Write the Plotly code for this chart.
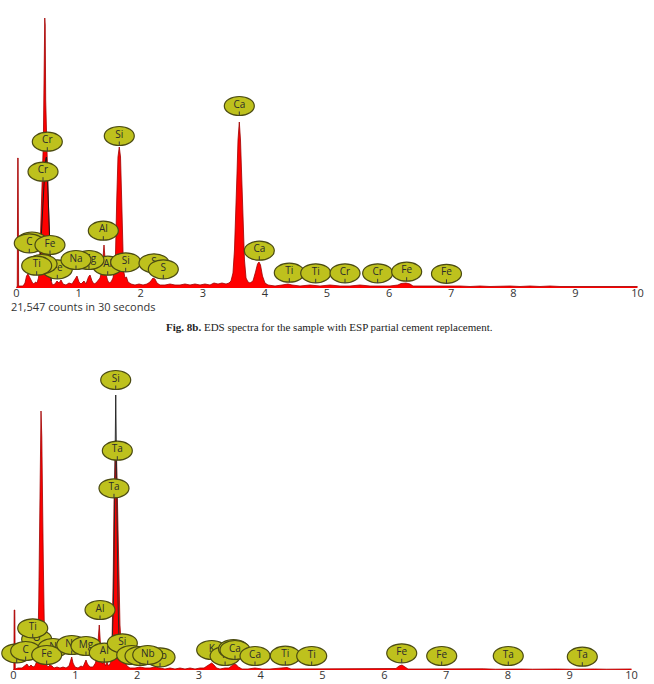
import plotly.graph_objects as go

# ---------------- data ----------------
tick_values = [0, 1, 2, 3, 4, 5, 6, 7, 8, 9, 10]
tick_labels = ["0", "1", "2", "3", "4", "5", "6", "7", "8", "9", "10"]

# Upper spectrum (Fig. 8b): energy in keV, counts
top_energy = [
    0.000, 0.012, 0.020, 0.026, 0.034, 0.056, 0.105, 0.137, 0.161, 0.185,
    0.209, 0.233, 0.258, 0.282, 0.306, 0.330, 0.354, 0.370, 0.386, 0.403,
    0.419, 0.432, 0.440, 0.448, 0.455, 0.462, 0.470, 0.483, 0.496, 0.512,
    0.528, 0.544, 0.559, 0.580, 0.620, 0.652, 0.684, 0.717, 0.749, 0.797,
    0.845, 0.894, 0.942, 0.974, 1.006, 1.039, 1.087, 1.119, 1.159, 1.184,
    1.216, 1.248, 1.280, 1.312, 1.345, 1.377, 1.393, 1.409, 1.425, 1.441,
    1.465, 1.490, 1.522, 1.554, 1.578, 1.594, 1.614, 1.634, 1.655, 1.675,
    1.694, 1.710, 1.723, 1.747, 1.771, 1.796, 1.844, 1.908, 1.973, 2.037,
    2.101, 2.150, 2.198, 2.230, 2.262, 2.311, 2.391, 2.472, 2.552, 2.633,
    2.713, 2.794, 2.874, 2.955, 3.035, 3.116, 3.180, 3.245, 3.309, 3.374,
    3.422, 3.454, 3.486, 3.510, 3.527, 3.551, 3.567, 3.588, 3.607, 3.623,
    3.647, 3.671, 3.696, 3.728, 3.760, 3.808, 3.849, 3.881, 3.905, 3.929,
    3.961, 4.001, 4.050, 4.163, 4.275, 4.372, 4.436, 4.565, 4.726, 4.887,
    5.048, 5.209, 5.370, 5.531, 5.692, 5.853, 6.014, 6.143, 6.192, 6.272,
    6.337, 6.385, 6.498, 6.659, 6.820, 6.981, 7.142, 7.303, 7.464, 7.625,
    7.786, 7.947, 8.108, 8.269, 8.430, 8.591, 8.752, 8.913, 9.074, 9.235,
    9.396, 9.557, 9.718, 9.879, 10.000,
]
top_counts = [
    0, 20, 1300, 1300, 20, 20, 20, 50, 120, 140,
    110, 90, 50, 40, 60, 50, 100, 200, 530, 830,
    1130, 1450, 1880, 2480, 2700, 2630, 1880, 1450, 1150, 880,
    580, 230, 70, 30, 40, 70, 50, 80, 40, 30,
    50, 40, 90, 120, 60, 40, 70, 40, 110, 130,
    70, 40, 50, 80, 100, 180, 330, 430, 300, 140,
    80, 50, 60, 100, 200, 330, 880, 1310, 1410, 1310,
    880, 380, 180, 100, 110, 60, 40, 30, 40, 30,
    40, 60, 100, 90, 50, 30, 30, 40, 30, 30,
    40, 30, 40, 30, 40, 30, 50, 40, 50, 40,
    50, 70, 150, 380, 650, 1150, 1480, 1660, 1480, 1150,
    650, 280, 100, 60, 50, 70, 160, 240, 260, 230,
    120, 50, 30, 20, 30, 40, 30, 20, 30, 20,
    30, 20, 20, 30, 20, 20, 20, 30, 45, 50,
    40, 20, 20, 20, 25, 20, 20, 15, 20, 15,
    20, 20, 15, 20, 15, 20, 15, 15, 20, 15,
    15, 20, 15, 15, 15,
]
# dark overlay trace around the strong low-energy peak (upper spectrum)
top_overlay_energy = [0.380, 0.400, 0.420, 0.440, 0.460, 0.475, 0.483, 0.496, 0.512, 0.528, 0.544, 0.559]
top_overlay_counts = [300, 560, 820, 1050, 1230, 1300, 1310, 1150, 880, 580, 230, 70]

# Lower spectrum
bot_energy = [
    0.000, 0.006, 0.011, 0.021, 0.028, 0.073, 0.138, 0.186, 0.218, 0.251,
    0.283, 0.316, 0.348, 0.372, 0.392, 0.409, 0.421, 0.434, 0.445, 0.458,
    0.469, 0.482, 0.497, 0.510, 0.526, 0.558, 0.591, 0.623, 0.655, 0.704,
    0.752, 0.801, 0.850, 0.898, 0.922, 0.942, 0.963, 0.995, 1.044, 1.092,
    1.125, 1.157, 1.173, 1.197, 1.238, 1.286, 1.327, 1.351, 1.375, 1.388,
    1.403, 1.419, 1.440, 1.464, 1.489, 1.513, 1.537, 1.561, 1.589, 1.599,
    1.615, 1.626, 1.642, 1.654, 1.667, 1.686, 1.702, 1.723, 1.748, 1.777,
    1.804, 1.837, 1.885, 1.966, 2.047, 2.128, 2.209, 2.290, 2.371, 2.451,
    2.532, 2.613, 2.694, 2.775, 2.856, 2.937, 3.018, 3.083, 3.131, 3.172,
    3.207, 3.244, 3.285, 3.341, 3.422, 3.487, 3.528, 3.568, 3.600, 3.641,
    3.697, 3.794, 3.908, 4.021, 4.150, 4.280, 4.361, 4.426, 4.490, 4.636,
    4.798, 4.960, 5.121, 5.283, 5.445, 5.607, 5.769, 5.930, 6.092, 6.189,
    6.238, 6.286, 6.335, 6.383, 6.578, 6.800, 7.000, 7.200, 7.400, 7.600,
    7.800, 8.000, 8.200, 8.400, 8.600, 8.800, 9.000, 9.200, 9.400, 9.600,
    9.800, 10.000,
]
bot_counts = [
    0, 10, 600, 600, 10, 20, 20, 40, 60, 30,
    50, 30, 40, 80, 170, 700, 1330, 2330, 2590, 2330,
    1500, 1100, 500, 170, 60, 30, 50, 40, 20, 30,
    20, 30, 20, 40, 90, 130, 70, 30, 20, 40,
    30, 80, 100, 60, 30, 30, 70, 150, 350, 450,
    300, 100, 60, 90, 40, 80, 40, 60, 100, 400,
    1000, 1670, 2150, 2300, 2150, 1670, 1000, 450, 200, 100,
    80, 40, 20, 20, 30, 20, 20, 30, 20, 10,
    20, 10, 20, 10, 20, 10, 20, 20, 40, 60,
    70, 50, 20, 10, 20, 20, 40, 60, 55, 30,
    10, 10, 20, 10, 10, 15, 25, 25, 10, 10,
    10, 10, 10, 10, 10, 10, 10, 10, 10, 15,
    40, 50, 30, 10, 10, 12, 8, 12, 10, 12,
    8, 12, 10, 8, 12, 10, 8, 12, 10, 8,
    10, 10,
]
# dark overlay trace around the Si peak (lower spectrum)
bot_overlay_energy = [1.589, 1.602, 1.618, 1.634, 1.646, 1.654, 1.662, 1.675, 1.691, 1.707]
bot_overlay_counts = [100, 300, 700, 1500, 2300, 2750, 2300, 1500, 700, 300]

# Element markers: name, energy (keV), marker height (counts) - drawn in this order
top_label_names = ["Cr", "Cr", "Si", "Ca", "Al", "O", "C", "Fe", "Fe", "O", "Ti", "Al",
                   "Mg", "Na", "Si", "S", "S", "Ca", "Ti", "Ti", "Cr", "Cr", "Fe", "Fe"]
top_label_energy = [0.496, 0.427, 1.655, 3.588, 1.398, 0.250, 0.206, 0.539, 0.657, 0.411, 0.325, 1.469,
                    1.167, 0.958, 1.758, 2.214, 2.364, 3.910, 4.393, 4.818, 5.290, 5.816, 6.283, 6.924]
top_label_counts = [1463, 1163, 1520, 1820, 573, 465, 447, 430, 187, 240, 223, 223,
                    280, 280, 257, 247, 187, 373, 153, 147, 147, 147, 163, 142]

bot_label_names = ["Si", "Ta", "Ta", "Al", "O", "Ti", "O", "C", "N", "Fe", "Na", "Mg", "Al", "Si",
                   "S", "S", "Nb", "Nb", "K", "K", "Ca", "Ca", "Ca", "Ti", "Ti", "Fe", "Fe", "Ta", "Ta"]
bot_label_energy = [1.654, 1.680, 1.626, 1.400, 0.375, 0.311, 0.052, 0.197, 0.639, 0.537, 0.942, 1.173,
                    1.469, 1.761, 1.913, 2.047, 2.371, 2.172, 3.207, 3.424, 3.560, 3.584, 3.908,
                    4.398, 4.825, 6.282, 6.929, 8.006, 9.204]
bot_label_counts = [2900, 2193, 1817, 600, 307, 417, 167, 190, 220, 150, 250, 240,
                    173, 267, 150, 140, 127, 150, 200, 140, 210, 200, 140,
                    143, 140, 167, 140, 140, 133]

top_counts_text = "21,547 counts in 30 seconds"
bot_counts_text = "22,327 counts in 30 seconds"
caption_bold = "Fig. 8b."
caption_text = " EDS spectra for the sample with ESP partial cement replacement."

# ---------------- layout geometry (pixels) ----------------
W, H = 654, 684
X_RANGE = [-0.2, 10.2]
TOP_X0, TOP_PPK = 16.5, 62.1
BOT_X0, BOT_PPK = 13.5, 61.8
TOP_BASE, TOP_TOPPX = 288, 0
BOT_BASE, BOT_TOPPX = 670, 355
CPP = 10  # counts per vertical pixel

def xdom(x0, ppk):
    return [(x0 + X_RANGE[0] * ppk) / W, (x0 + X_RANGE[1] * ppk) / W]

RED = "#ff0000"
OUTLINE = "#a00000"
MARK_FILL = "#bec11d"
MARK_EDGE = "#4b4b12"
EW, EH = 15, 9.5   # ellipse half-size in pixels

fig = go.Figure()
fig.add_trace(go.Scatter(x=top_energy, y=top_counts, mode="lines", fill="tozeroy",
                         fillcolor=RED, line=dict(color=OUTLINE, width=0.8),
                         xaxis="x", yaxis="y", hoverinfo="skip", showlegend=False))
fig.add_trace(go.Scatter(x=top_overlay_energy, y=top_overlay_counts, mode="lines",
                         line=dict(color="#1a1a1a", width=1), xaxis="x", yaxis="y",
                         hoverinfo="skip", showlegend=False))
fig.add_trace(go.Scatter(x=bot_energy, y=bot_counts, mode="lines", fill="tozeroy",
                         fillcolor=RED, line=dict(color=OUTLINE, width=0.8),
                         xaxis="x2", yaxis="y2", hoverinfo="skip", showlegend=False))
fig.add_trace(go.Scatter(x=bot_overlay_energy, y=bot_overlay_counts, mode="lines",
                         line=dict(color="#2a2a2a", width=1), xaxis="x2", yaxis="y2",
                         hoverinfo="skip", showlegend=False))

shapes = []
def add_markers(names, energies, counts, xr, yr, ppk):
    dx = EW / ppk
    dy = EH * CPP
    for n, e, c in zip(names, energies, counts):
        shapes.append(dict(
            type="circle", xref=xr, yref=yr,
            x0=e - dx, x1=e + dx, y0=c - dy, y1=c + dy,
            fillcolor=MARK_FILL, line=dict(color=MARK_EDGE, width=1.2), layer="above",
            label=dict(text=n, font=dict(family="Open Sans", size=10, color="#2b2b2b"),
                       textposition="top center", padding=1),
        ))
        shapes.append(dict(
            type="line", xref=xr, yref=yr,
            x0=e, x1=e, y0=c - dy, y1=c - 5.5 * CPP,
            line=dict(color="#3a3a3a", width=1), layer="above",
        ))

add_markers(top_label_names, top_label_energy, top_label_counts, "x", "y", TOP_PPK)
add_markers(bot_label_names, bot_label_energy, bot_label_counts, "x2", "y2", BOT_PPK)

axis_common = dict(range=X_RANGE, tickvals=tick_values, ticktext=tick_labels,
                   showgrid=False, zeroline=False, showline=False, ticks="",
                   ticklabelstandoff=-3,
                   tickfont=dict(family="Open Sans", size=11, color="#333333"))

fig.update_layout(
    width=W, height=H, margin=dict(l=0, r=0, t=0, b=0),
    paper_bgcolor="white", plot_bgcolor="white", showlegend=False,
    xaxis=dict(domain=xdom(TOP_X0, TOP_PPK), anchor="y", **axis_common),
    yaxis=dict(domain=[1 - TOP_BASE / H, 1 - TOP_TOPPX / H],
               range=[0, (TOP_BASE - TOP_TOPPX) * CPP], visible=False),
    xaxis2=dict(domain=xdom(BOT_X0, BOT_PPK), anchor="y2", **axis_common),
    yaxis2=dict(domain=[1 - BOT_BASE / H, 1 - BOT_TOPPX / H],
                range=[0, (BOT_BASE - BOT_TOPPX) * CPP], visible=False),
    shapes=shapes,
    annotations=[
        dict(text=top_counts_text, xref="paper", yref="paper", x=9 / W, y=1 - 306.5 / H,
             xanchor="left", yanchor="middle", showarrow=False,
             font=dict(family="Open Sans", size=11, color="#333333")),
        dict(text=bot_counts_text, xref="paper", yref="paper", x=9 / W, y=1 - 690 / H,
             xanchor="left", yanchor="middle", showarrow=False,
             font=dict(family="Open Sans", size=11, color="#333333")),
        dict(text="<b>" + caption_bold + "</b>" + caption_text, xref="paper", yref="paper",
             x=329.5 / W, y=1 - 327 / H, xanchor="center", yanchor="middle", showarrow=False,
             font=dict(family="Liberation Serif", size=11, color="#222222")),
    ],
)

fig.write_html("out.html")
